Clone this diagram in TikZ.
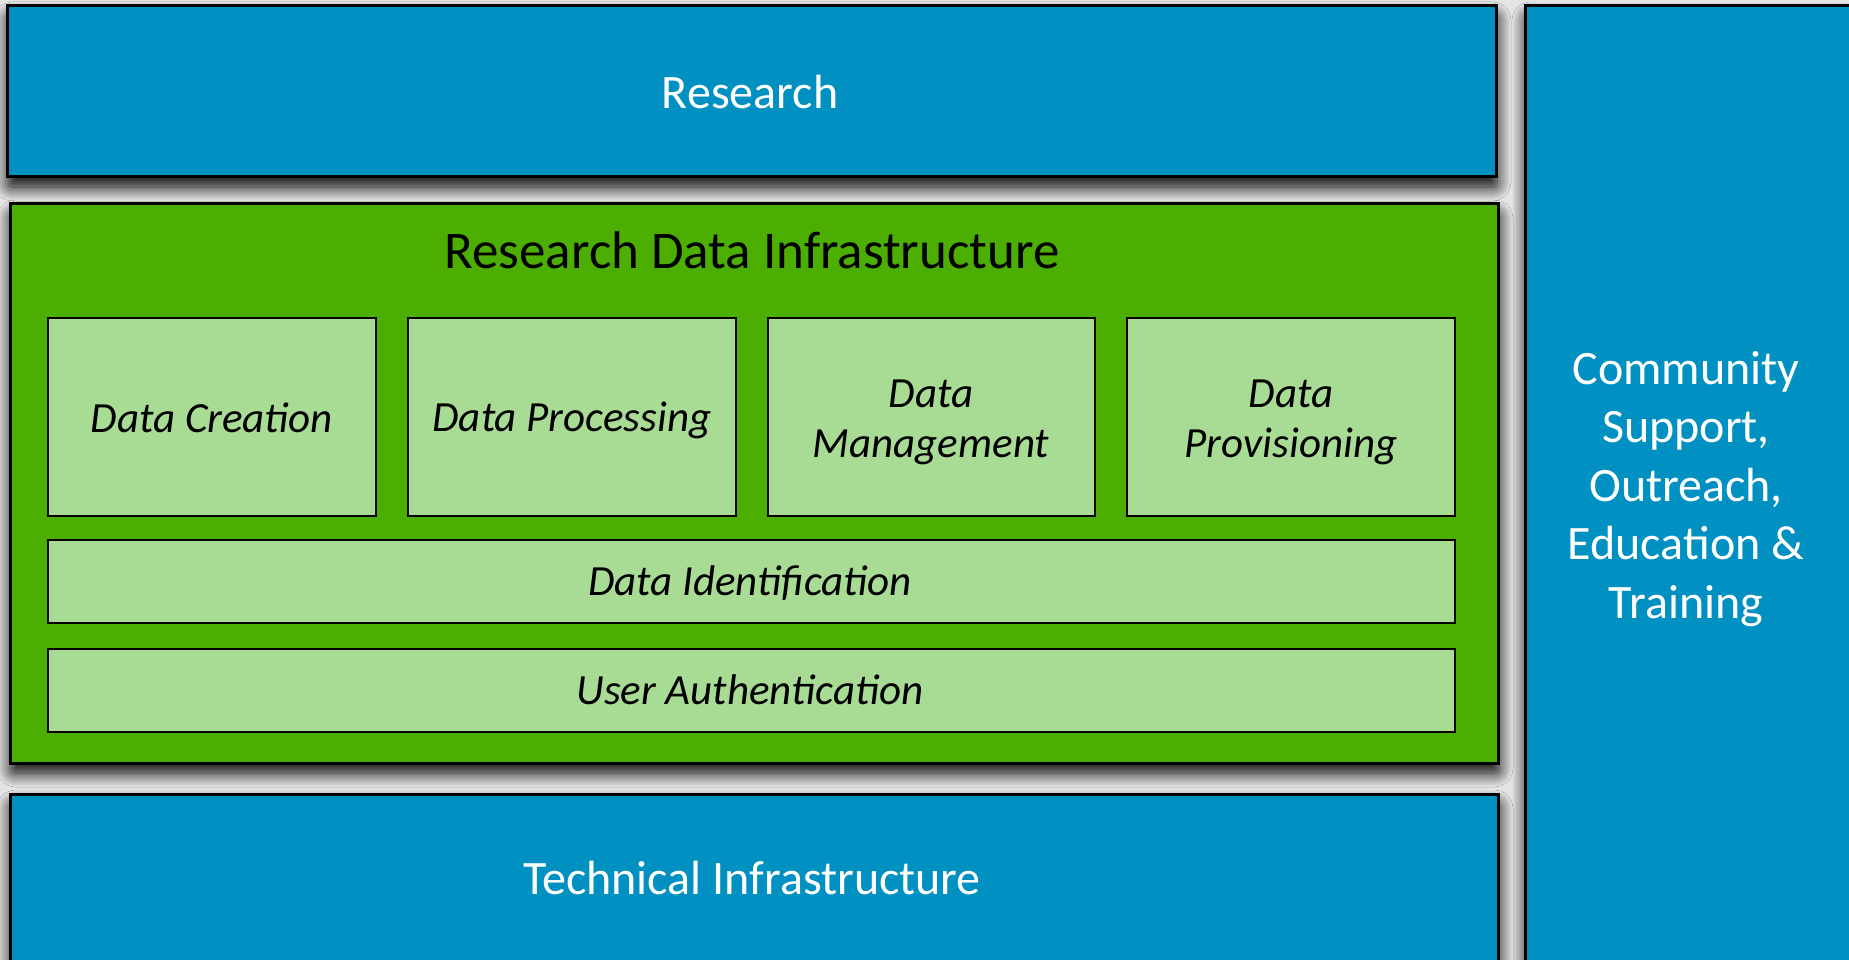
\documentclass[tikz,border=0pt]{standalone}
\usepackage{fontspec}
\setmainfont{Carlito}
\usetikzlibrary{shadows.blur}
\definecolor{layerblue}{RGB}{0,145,194}
\definecolor{rdigreen}{RGB}{76,174,0}
\definecolor{svcgreen}{RGB}{168,219,148}
\definecolor{paper}{RGB}{228,228,228}
\tikzset{
  softshadow/.style={blur shadow={shadow xshift=1pt, shadow yshift=-10pt,
    shadow blur radius=14pt, shadow blur steps=14, shadow blur extra rounding=4pt,
    shadow opacity=100}},
  layer/.style={draw=black, line width=3pt, fill=layerblue, softshadow},
  rdi/.style={draw=black, line width=3pt, fill=rdigreen, softshadow},
  svc/.style={draw=black, line width=2.6pt, fill=svcgreen},
  whitelabel/.style={text=white, font=\fontsize{48}{58.6}\selectfont, align=center},
  blacklabel/.style={text=black, font=\fontsize{53}{60}\selectfont, align=center},
  svclabel/.style={text=black, font=\fontsize{43}{50}\selectfont\itshape, align=center},
}
\begin{document}
\begin{tikzpicture}[x=1pt, y=-1pt]
  \useasboundingbox (0,0) rectangle (1849,960);
  \clip (0,0) rectangle (1849,960);
  \fill[paper] (0,0) rectangle (1849,960);

  % outer layers
  \path[layer] (7,6) rectangle (1496,177);
  \path[layer] (1525,6) rectangle (1880,1000);
  \path[layer] (10,794) rectangle (1498,1000);
  \path[rdi] (10,204) rectangle (1498,763);

  % inner services
  \path[svc] (48,318) rectangle (376,516);
  \path[svc] (408,318) rectangle (736,516);
  \path[svc] (768,318) rectangle (1095,516);
  \path[svc] (1127,318) rectangle (1455,516);
  \path[svc] (48,540) rectangle (1455,623);
  \path[svc] (48,649) rectangle (1455,732);

  % labels
  \node[whitelabel] (research) at (750,92) {Research};
  \node[blacklabel] (rdi) at (752,250) {Research Data Infrastructure};
  \node[svclabel] (creation) at (212,418) {Data Creation};
  \node[svclabel] (processing) at (572,420) {Data Processing};
  \node[svclabel] (management) at (931,422) {Data\\Management};
  \node[svclabel] (provisioning) at (1291,422) {Data\\Provisioning};
  \node[svclabel] (ident) at (750,583) {Data Identification};
  \node[svclabel] (auth) at (750,690) {User Authentication};
  \node[whitelabel] (tech) at (752,878) {Technical Infrastructure};
  \node[whitelabel] (community) at (1686,489) {Community\\Support,\\Outreach,\\Education \&\\Training};
\end{tikzpicture}
\end{document}
